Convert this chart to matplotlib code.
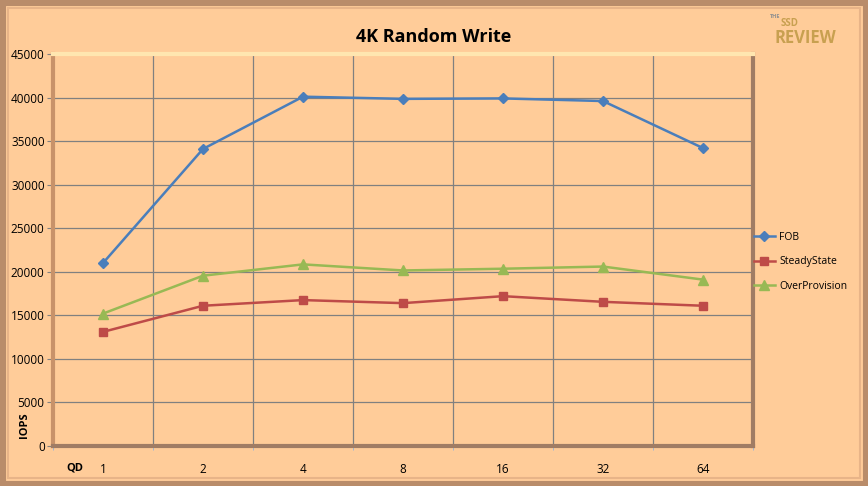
import matplotlib
matplotlib.use('Agg')
import matplotlib.pyplot as plt
from matplotlib.patches import Rectangle
import numpy as np

# DATA
qd_labels = ['1', '2', '4', '8', '16', '32', '64']
fob = [21000, 34100, 40100, 39850, 39900, 39600, 34200]
steady_state = [13100, 16100, 16750, 16400, 17200, 16550, 16100]
over_provision = [15200, 19550, 20850, 20150, 20350, 20600, 19100]
y_ticks = list(range(0, 45001, 5000))

bg = '#FFCC99'
plt.rcParams['font.family'] = ['Open Sans', 'DejaVu Sans']

fig = plt.figure(figsize=(8.68, 4.86), dpi=100)
fig.patch.set_facecolor(bg)

# outer bevel frame
fig.patches.append(Rectangle((0, 0), 1, 1, transform=fig.transFigure, fill=False,
                             edgecolor='#B98C6A', linewidth=8, zorder=0))
fig.patches.append(Rectangle((0.009, 0.016), 0.982, 0.968, transform=fig.transFigure, fill=False,
                             edgecolor='#E8B488', linewidth=1.5, zorder=0))

ax = fig.add_axes([53 / 868, 40 / 486, 700 / 868, 392 / 486])
ax.set_facecolor(bg)

x = np.arange(len(qd_labels))
ax.plot(x, fob, color='#4A7EBB', marker='D', markersize=5, linewidth=1.8, label='FOB')
ax.plot(x, steady_state, color='#BE4B48', marker='s', markersize=6, linewidth=1.8, label='SteadyState')
ax.plot(x, over_provision, color='#98B954', marker='^', markersize=7, linewidth=1.8, label='OverProvision')

ax.set_xlim(-0.5, len(qd_labels) - 0.5)
ax.set_ylim(0, 45000)
ax.set_yticks(y_ticks)
ax.set_yticklabels([str(v) for v in y_ticks], fontsize=8.5)
ax.set_xticks(x)
ax.set_xticklabels(qd_labels, fontsize=8.5)
ax.set_xticks(np.arange(-0.5, len(qd_labels), 1), minor=True)
ax.tick_params(axis='x', which='major', length=0, pad=12)
ax.tick_params(axis='x', which='minor', length=3, color='#8DB4E2')
ax.tick_params(axis='y', length=4, color='#808080', pad=2)
ax.grid(True, which='minor', axis='x', color='#808080', linewidth=0.9)
ax.grid(True, which='major', axis='y', color='#808080', linewidth=0.9)
ax.set_axisbelow(True)

# plot area bevel
ax.spines['left'].set_color('#C8926A')
ax.spines['left'].set_linewidth(3)
ax.spines['top'].set_color('#FFE6B0')
ax.spines['top'].set_linewidth(3)
ax.spines['right'].set_color('#A07C64')
ax.spines['right'].set_linewidth(3)
ax.spines['bottom'].set_color('#A07C64')
ax.spines['bottom'].set_linewidth(3)

fig.text(434 / 868, 1 - 37 / 486, '4K Random Write', ha='center', va='center',
         fontsize=13, fontweight='bold')
fig.text(75 / 868, 1 - 468 / 486, 'QD', ha='center', va='center', fontsize=8, fontweight='bold')
fig.text(24 / 868, 1 - 425 / 486, 'IOPS', ha='center', va='center', fontsize=8,
         fontweight='bold', rotation=90)

# watermark logo approximation
fig.text(805 / 868, 1 - 38 / 486, 'REVIEW', ha='center', va='center', fontsize=12,
         fontweight='bold', color='#C8A050')
fig.text(790 / 868, 1 - 24 / 486, 'SSD', ha='center', va='center', fontsize=7,
         fontweight='bold', color='#C8A050')
fig.text(775 / 868, 1 - 16 / 486, 'THE', ha='center', va='center', fontsize=4,
         fontweight='bold', color='#909090')

leg = ax.legend(loc='center left', bbox_to_anchor=(1.0, 0.47), frameon=False,
                fontsize=7.5, handlelength=2.0, handletextpad=0.4,
                labelspacing=1.3, borderaxespad=0.0, borderpad=0.1)

fig.savefig('out.png', dpi=100, facecolor=bg)
